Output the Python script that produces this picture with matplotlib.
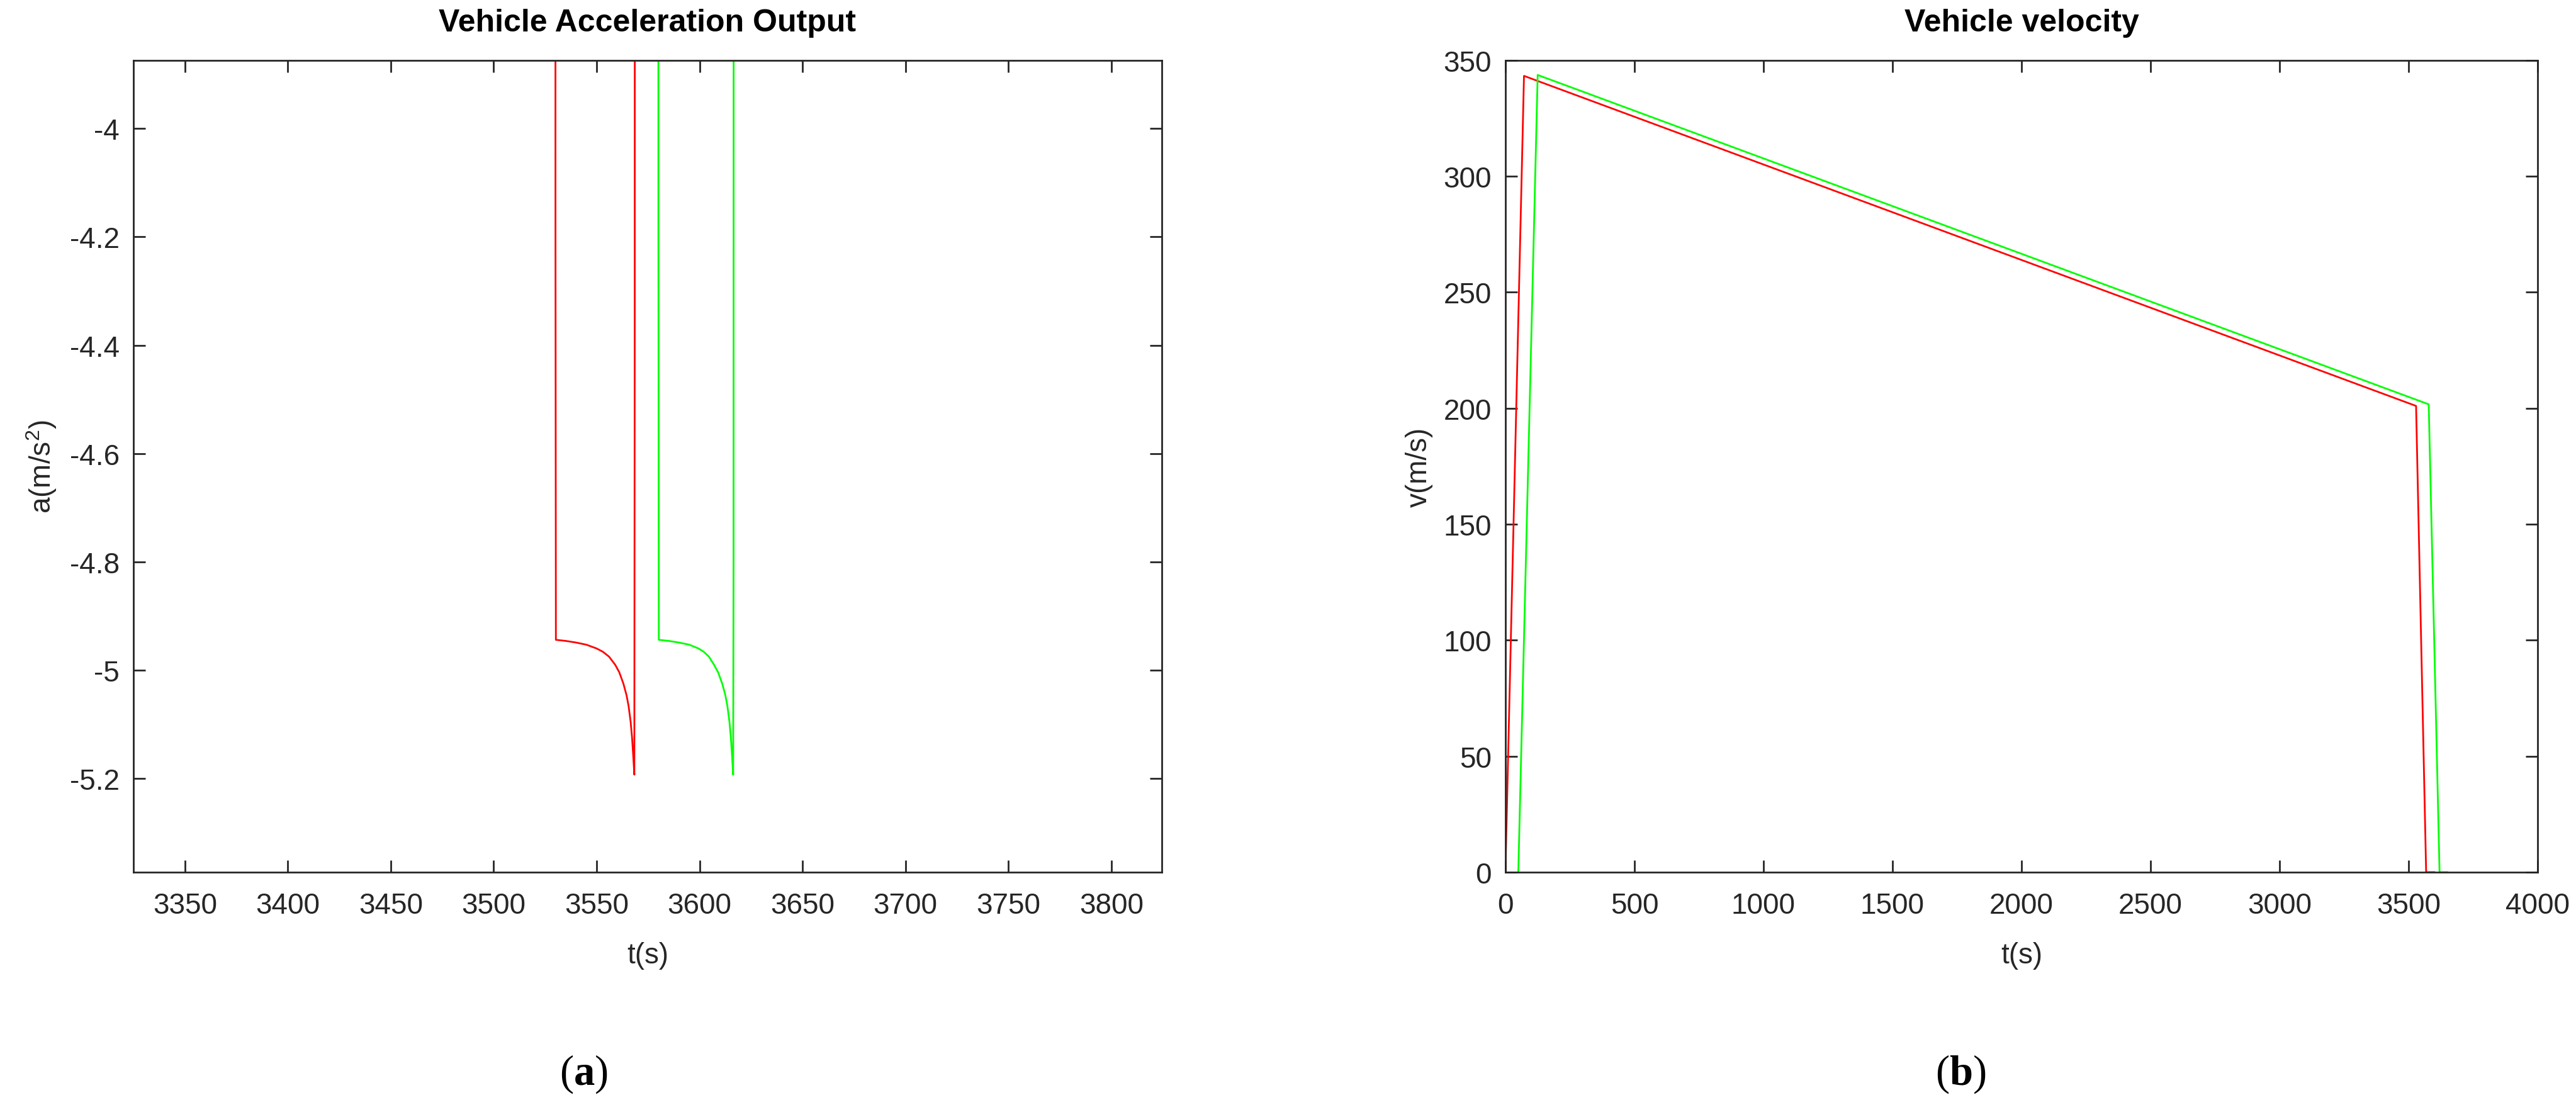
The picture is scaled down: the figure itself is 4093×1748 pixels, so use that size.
import matplotlib
matplotlib.use('Agg')
import matplotlib.pyplot as plt


# acceleration (zoomed view), t in s, a in m/s^2
acc_red_t = [3520.0, 3529.8, 3530.0, 3530.2, 3535.0, 3540.0, 3545.0, 3550.0, 3553.0, 3556.0,
             3559.0, 3561.0, 3563.0, 3564.5, 3565.5, 3566.5, 3567.2, 3567.8, 3568.3,
             3568.5, 3568.7, 3580.0]
acc_red_a = [-0.04, -0.04, -4.18, -4.944, -4.946, -4.949, -4.953, -4.960, -4.966, -4.975,
             -4.990, -5.004, -5.025, -5.046, -5.066, -5.095, -5.125, -5.160, -5.193,
             -4.35, 0.0, 0.0]

acc_green_t = [3570.0, 3579.8, 3580.0, 3580.2, 3585.0, 3590.0, 3595.0, 3599.5, 3602.0, 3604.5,
               3607.0, 3609.0, 3611.0, 3612.5, 3613.5, 3614.5, 3615.2, 3615.8, 3616.3,
               3616.5, 3616.7, 3630.0]
acc_green_a = [-0.04, -0.04, -4.18, -4.944, -4.946, -4.949, -4.953, -4.960, -4.966, -4.975,
               -4.990, -5.004, -5.025, -5.046, -5.066, -5.095, -5.125, -5.160, -5.193,
               -4.80, 0.0, 0.0]

# velocity, t in s, v in m/s
vel_red_t = [0, 72, 3529, 3568, 3600]
vel_red_v = [0, 343.3, 201.0, 0, 0]
vel_green_t = [50, 125, 3578, 3620, 3650]
vel_green_v = [0, 343.7, 201.7, 0, 0]

acc_xticks = [3350, 3400, 3450, 3500, 3550, 3600, 3650, 3700, 3750, 3800]
acc_yticks = [-5.2, -5, -4.8, -4.6, -4.4, -4.2, -4]
acc_yticklabels = ['-5.2', '-5', '-4.8', '-4.6', '-4.4', '-4.2', '-4']
vel_xticks = [0, 500, 1000, 1500, 2000, 2500, 3000, 3500, 4000]
vel_yticks = [0, 50, 100, 150, 200, 250, 300, 350]

plt.rcParams['font.family'] = 'Liberation Sans'
plt.rcParams['axes.unicode_minus'] = False
plt.rcParams['mathtext.fontset'] = 'custom'
plt.rcParams['mathtext.rm'] = 'Liberation Sans'
plt.rcParams['mathtext.it'] = 'Liberation Sans:italic'
plt.rcParams['mathtext.bf'] = 'Liberation Serif:bold'

axcol = '#262626'
fig = plt.figure(figsize=(40.93, 17.49), dpi=100)
ax1 = fig.add_axes([0.0518, 0.2070, 0.3992, 0.7376])
ax2 = fig.add_axes([0.5844, 0.2070, 0.4007, 0.7376])

ax1.plot(acc_red_t, acc_red_a, color='#ff0000', lw=2.0)
ax1.plot(acc_green_t, acc_green_a, color='#00ff00', lw=2.0)
ax1.set_xlim(3325, 3824.5)
ax1.set_ylim(-5.373, -3.874)
ax1.set_xticks(acc_xticks)
ax1.set_yticks(acc_yticks)
ax1.set_yticklabels(acc_yticklabels)
ax1.set_title('Vehicle Acceleration Output', fontsize=36, fontweight='bold', pad=34)
ax1.set_xlabel('t(s)', fontsize=33, color=axcol)
ax1.set_ylabel('a(m/s$^2$)', fontsize=33, color=axcol)
ax1.yaxis.set_label_coords(-0.073, 0.5)
ax1.xaxis.set_label_coords(0.5, -0.085)

ax2.plot(vel_red_t, vel_red_v, color='#ff0000', lw=2.0)
ax2.plot(vel_green_t, vel_green_v, color='#00ff00', lw=2.0)
ax2.set_xlim(0, 4000)
ax2.set_ylim(0, 350)
ax2.set_xticks(vel_xticks)
ax2.set_yticks(vel_yticks)
ax2.set_title('Vehicle velocity', fontsize=36, fontweight='bold', pad=34)
ax2.set_xlabel('t(s)', fontsize=33, color=axcol)
ax2.set_ylabel('v(m/s)', fontsize=33, color=axcol)
ax2.yaxis.set_label_coords(-0.070, 0.5)
ax2.xaxis.set_label_coords(0.5, -0.085)

for ax in (ax1, ax2):
    for sp in ax.spines.values():
        sp.set_color(axcol)
        sp.set_linewidth(2)
    ax.tick_params(direction='in', length=14, width=2, top=True, right=True,
                   labelsize=33, colors=axcol)
    ax.tick_params(axis='x', pad=22)
    ax.tick_params(axis='y', pad=16)

fig.text(0.2265, 0.024, '($\\mathbf{a}$)', family='Liberation Serif', fontsize=48,
         ha='center', va='center')
fig.text(0.761, 0.024, '($\\mathbf{b}$)', family='Liberation Serif', fontsize=48,
         ha='center', va='center')

fig.savefig('out.png', dpi=100, facecolor='white')
